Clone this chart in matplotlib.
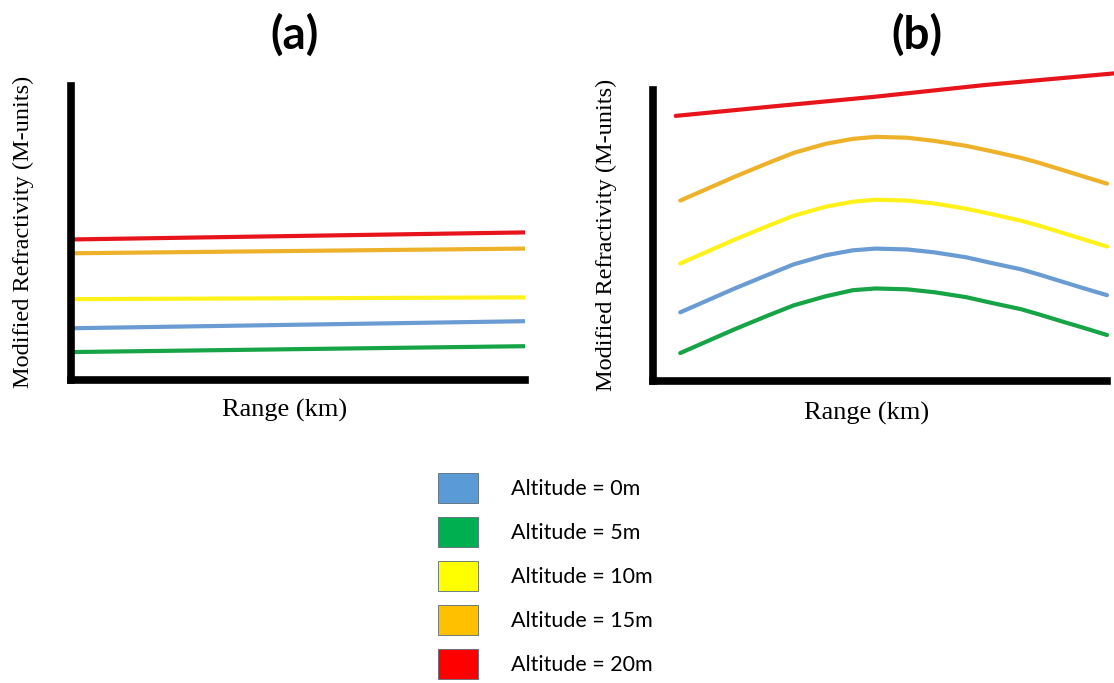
import matplotlib
matplotlib.use('Agg')

import matplotlib.pyplot as plt
from matplotlib.patches import Patch

# =========================
# DATA (arbitrary units)
# =========================
labels = ["Altitude = 0m", "Altitude = 5m", "Altitude = 10m",
          "Altitude = 15m", "Altitude = 20m"]
legend_colors = ["#5B9BD5", "#00B050", "#FFFF00", "#FFC000", "#FF0000"]

# line colours as drawn in the panels
c_blue = "#6A9BD2"
c_green = "#17A447"
c_yellow = "#FFF21A"
c_orange = "#EEB12A"
c_red = "#E8141B"

# panel (a): nearly flat profiles
range_a = [0.0, 10.0]
a_blue = [1.76, 2.00]
a_green = [0.95, 1.15]
a_yellow = [2.75, 2.81]
a_orange = [4.31, 4.47]
a_red = [4.78, 5.02]

# panel (b): humped profiles
range_b = [0.6, 1.2, 1.8, 2.5, 3.1, 3.8, 4.4, 4.9, 5.6, 6.2, 6.9, 7.5, 8.1, 8.5, 9.0, 9.5, 10.0]
b_orange = [6.20, 6.61, 7.02, 7.47, 7.84, 8.15, 8.32, 8.39, 8.36, 8.25, 8.08, 7.88, 7.67, 7.50, 7.26, 7.02, 6.78]
b_yellow = [4.04, 4.45, 4.86, 5.31, 5.68, 5.99, 6.16, 6.23, 6.20, 6.10, 5.92, 5.72, 5.51, 5.34, 5.10, 4.86, 4.62]
b_blue = [2.36, 2.77, 3.18, 3.63, 4.01, 4.32, 4.49, 4.55, 4.52, 4.42, 4.25, 4.04, 3.84, 3.66, 3.42, 3.18, 2.95]
b_green = [0.96, 1.37, 1.78, 2.23, 2.60, 2.91, 3.12, 3.18, 3.15, 3.05, 2.88, 2.67, 2.47, 2.29, 2.05, 1.82, 1.58]
range_b_red = [0.5, 2.6, 4.9, 7.3, 10.15]
b_red = [9.11, 9.43, 9.77, 10.17, 10.57]

W, H = 1114, 683
fig = plt.figure(figsize=(W / 100, H / 100), dpi=100)


def px_axes(x0, y_top, x1, y_bot):
    return fig.add_axes([x0 / W, 1 - y_bot / H, (x1 - x0) / W, (y_bot - y_top) / H])


def style_axes(ax):
    ax.set_xlim(0, 10)
    ax.set_ylim(0, 10)
    for s in ["top", "right"]:
        ax.spines[s].set_visible(False)
    for s in ["left", "bottom"]:
        ax.spines[s].set_linewidth(5.5)
        ax.spines[s].set_color("black")
        ax.spines[s].set_capstyle("projecting")
    ax.set_xticks([])
    ax.set_yticks([])
    ax.patch.set_alpha(0)


LW = 3.0

# =========================
# PANEL (a)
# =========================
ax_a = px_axes(71, 86, 525, 380)
style_axes(ax_a)
for vals, col in [(a_red, c_red), (a_orange, c_orange), (a_yellow, c_yellow),
                  (a_blue, c_blue), (a_green, c_green)]:
    ax_a.plot(range_a, vals, color=col, lw=LW, solid_capstyle="butt", clip_on=False)

# =========================
# PANEL (b)
# =========================
ax_b = px_axes(653, 90, 1107, 381)
style_axes(ax_b)
for xs, vals, col in [(range_b_red, b_red, c_red), (range_b, b_orange, c_orange),
                      (range_b, b_yellow, c_yellow), (range_b, b_blue, c_blue),
                      (range_b, b_green, c_green)]:
    ax_b.plot(xs, vals, color=col, lw=LW, solid_capstyle="round", clip_on=False)

# titles and axis labels
title_kw = dict(fontsize=33, fontweight="bold", family="Lato", ha="center", va="center")
fig.text(295 / W, 1 - 35 / H, "(a)", **title_kw)
fig.text(917 / W, 1 - 35 / H, "(b)", **title_kw)

ylab_kw = dict(fontsize=17.5, family="Liberation Serif", ha="center", va="center", rotation=90)
fig.text(23 / W, 1 - 232 / H, "Modified Refractivity (M-units)", **ylab_kw)
fig.text(606 / W, 1 - 235 / H, "Modified Refractivity (M-units)", **ylab_kw)

xlab_kw = dict(fontsize=19, family="Liberation Serif", ha="center", va="center")
fig.text(285 / W, 1 - 410 / H, "Range (km)", **xlab_kw)
fig.text(867 / W, 1 - 413 / H, "Range (km)", **xlab_kw)

# =========================
# LEGEND
# =========================
handles = [Patch(facecolor=c, edgecolor="#5a6b7a", linewidth=0.6) for c in legend_colors]
fig.legend(handles, labels, loc="upper left",
           bbox_to_anchor=(438 / W, 1 - 473 / H),
           frameon=False, prop={"family": "Lato", "size": 15.5},
           handlelength=1.86, handleheight=1.77, handletextpad=1.53,
           labelspacing=0.65, borderpad=0, borderaxespad=0)

fig.savefig("out.png", dpi=100)
